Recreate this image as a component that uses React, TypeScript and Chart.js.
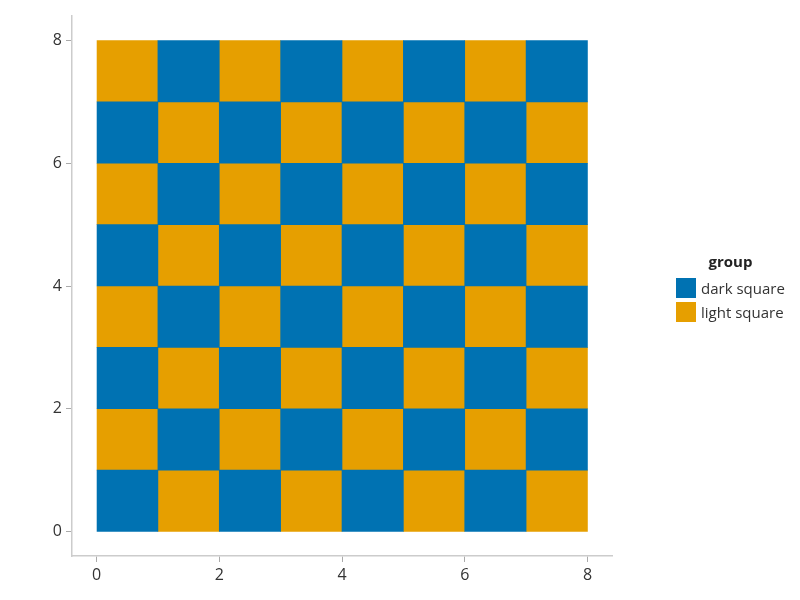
import React, { useEffect, useRef } from "react";
import { Chart, registerables } from "chart.js";

Chart.register(...registerables);

// Board, bottom row (y = 0..1) first; D = dark square, L = light square
const boardRows: string[] = [
  "DLDLDLDL",
  "LDLDLDLD",
  "DLDLDLDL",
  "LDLDLDLD",
  "DLDLDLDL",
  "LDLDLDLD",
  "DLDLDLDL",
  "LDLDLDLD",
];
const groupNames = ["dark square", "light square"];
const groupCodes = ["D", "L"];
const groupColors = ["#0072B2", "#E69F00"];
const xTicks = [0, 2, 4, 6, 8];
const yTicks = [0, 2, 4, 6, 8];
const axisMin = -0.4;
const axisMax = 8.4;

const FONT = "'Open Sans', 'Noto Sans', sans-serif";

export default function App() {
  const ref = useRef<HTMLCanvasElement | null>(null);

  useEffect(() => {
    if (!ref.current) return;
    const datasets = groupCodes.map((code, gi) => {
      const data: { x: [number, number]; y: number }[] = [];
      boardRows.forEach((row, r) => {
        row.split("").forEach((c, col) => {
          if (c === code) data.push({ x: [col, col + 1], y: r + 0.5 });
        });
      });
      return {
        label: groupNames[gi],
        data,
        backgroundColor: groupColors[gi],
        borderWidth: 0,
        barPercentage: 1,
        categoryPercentage: 1,
        grouped: false,
      };
    });

    const chart = new Chart(ref.current, {
      type: "bar",
      data: { datasets: datasets as any },
      options: {
        indexAxis: "y",
        responsive: false,
        animation: false,
        layout: { padding: { left: 0, top: 16, right: 188, bottom: 0 } },
        plugins: { legend: { display: false }, tooltip: { enabled: false } },
        scales: {
          x: {
            type: "linear",
            min: axisMin,
            max: axisMax,
            offset: false,
            afterBuildTicks: (s: any) => {
              s.ticks = xTicks.map((v) => ({ value: v }));
            },
            afterFit: (s: any) => {
              s.height = 44;
            },
            grid: {
              display: true,
              offset: false,
              drawOnChartArea: false,
              drawTicks: true,
              tickLength: 6,
              tickColor: "#aaa",
            },
            border: { display: true, color: "#ccc", width: 1.5 },
            ticks: {
              color: "#333",
              font: { family: FONT, size: 16 },
              padding: 4,
              maxRotation: 0,
            },
          },
          y: {
            type: "linear",
            min: axisMin,
            max: axisMax,
            offset: false,
            afterBuildTicks: (s: any) => {
              s.ticks = yTicks.map((v) => ({ value: v }));
            },
            afterFit: (s: any) => {
              s.width = 72;
            },
            grid: {
              display: true,
              offset: false,
              drawOnChartArea: false,
              drawTicks: true,
              tickLength: 6,
              tickColor: "#aaa",
            },
            border: { display: true, color: "#ccc", width: 1.5 },
            ticks: {
              color: "#333",
              font: { family: FONT, size: 16 },
              padding: 4,
            },
          },
        },
      },
    });
    return () => chart.destroy();
  }, []);

  return (
    <div style={{ position: "absolute", left: 0, top: 0, width: 800, height: 600, background: "#fff" }}>
      <canvas ref={ref} width={800} height={600} style={{ display: "block" }} />
      <div
        style={{
          position: "absolute",
          left: 676,
          top: 250,
          fontFamily: FONT,
          color: "#222",
        }}
      >
        <div style={{ fontWeight: 700, fontSize: 15, textAlign: "center", height: 26, lineHeight: "22px" }}>group</div>
        {groupNames.map((n, i) => (
          <div key={n} style={{ display: "flex", alignItems: "center", height: 24, fontSize: 15 }}>
            <span style={{ width: 20, height: 20, background: groupColors[i], display: "inline-block", marginRight: 5 }} />
            <span style={{ color: "#333" }}>{n}</span>
          </div>
        ))}
      </div>
    </div>
  );
}
